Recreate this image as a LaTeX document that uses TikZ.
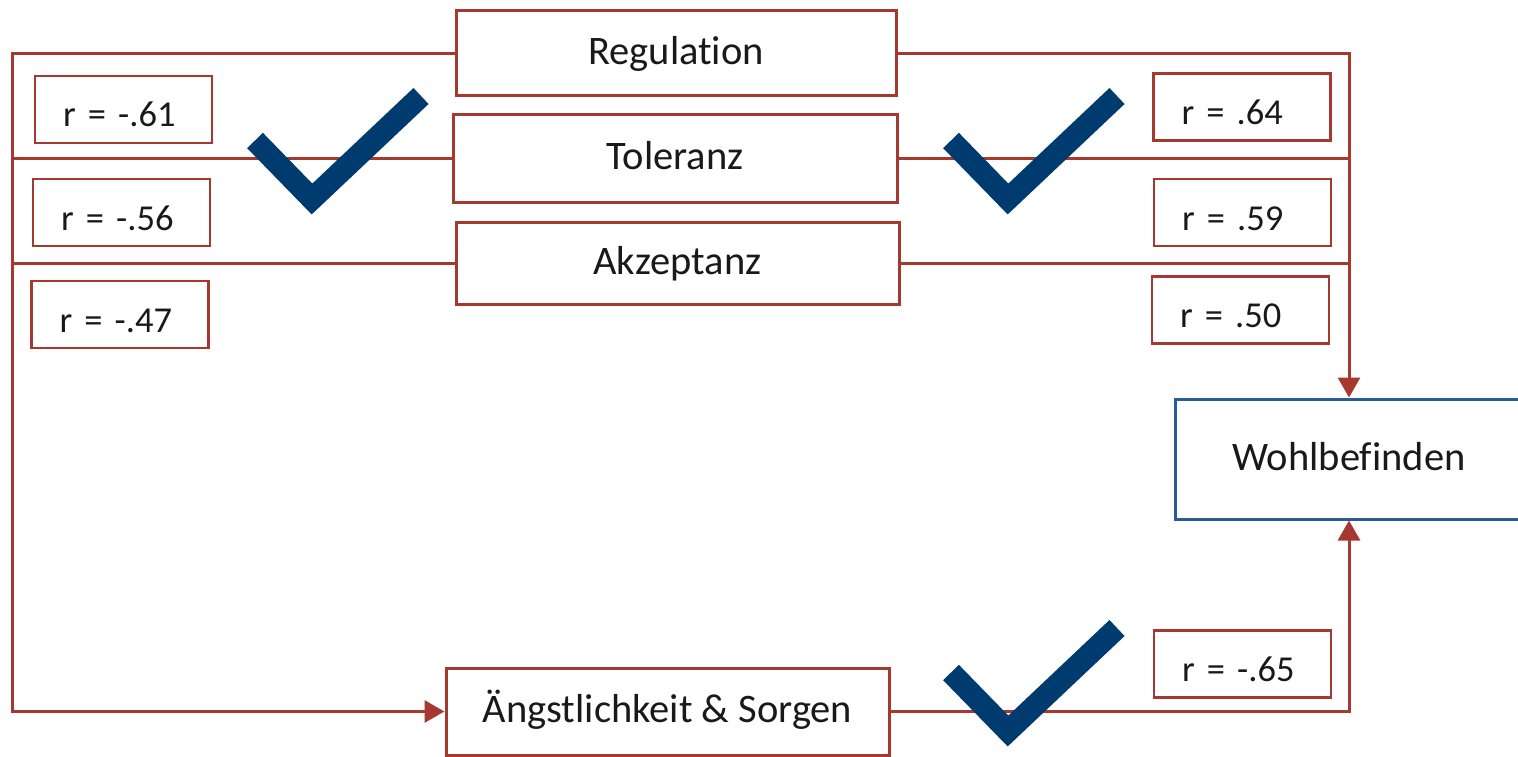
\documentclass[tikz,border=0pt]{standalone}
\usepackage{fontspec}
\setmainfont[Ligatures=NoCommon,RawFeature={-liga;-dlig}]{Carlito}
\usetikzlibrary{arrows.meta}
\definecolor{linkred}{RGB}{165,57,48}
\definecolor{tickblue}{RGB}{0,59,111}
\definecolor{outblue}{RGB}{40,92,150}
\definecolor{ink}{RGB}{25,25,25}

\begin{document}
\begin{tikzpicture}[x=1pt,y=-1pt,
  varbox/.style={draw=linkred, line width=3pt, inner sep=0pt, text=ink,
    font=\fontsize{40.5}{48}\selectfont, text height=26pt, text depth=4pt},
  outbox/.style={varbox, draw=outblue},
  coef/.style={draw=linkred, line width=2.5pt, inner xsep=28pt, inner ysep=0pt,
    text width=121pt, align=left, minimum height=67pt,
    text height=39pt, text depth=4pt, text=ink,
    font=\fontsize{36.5}{44}\selectfont},
  link/.style={draw=linkred, line width=3pt},
  arrowlink/.style={link, -{Triangle[length=20pt,width=22pt]}},
  tick/.style={draw=tickblue, line width=22pt, line join=miter, line cap=butt}]

\useasboundingbox (0,0) rectangle (1518,757);
\clip (0,0) rectangle (1518,757);

% variables
\node[varbox, minimum width=440pt, minimum height=85pt] (reg) at (676,53.5) {Regulation};
\node[varbox, minimum width=444pt, minimum height=87pt] (tol) at (675,158.5) {Toleranz};
\node[varbox, minimum width=443pt, minimum height=82pt] (akz) at (677.5,263) {Akzeptanz};
\node[varbox, minimum width=443pt, minimum height=87pt] (angst) at (667.5,711.5) {Ängstlichkeit \& Sorgen};
\node[outbox, minimum width=348pt, minimum height=120pt] (wohl) at (1349,459) {Wohlbefinden};

% correlation labels
\node[coef] (r61) at (123.5,109.5) {r = -.61};
\node[coef] (r56) at (121.5,212.5) {r = -.56};
\node[coef] (r47) at (120,314.5) {r = -.47};
\node[coef] (r64) at (1242,107) {r = .64};
\node[coef] (r59) at (1242.5,212.5) {r = .59};
\node[coef] (r50) at (1240.5,310) {r = .50};
\node[coef] (r65) at (1242.5,664) {r = -.65};

% bus lines
\coordinate (lft) at (12,0);
\coordinate (rgt) at (1349,0);

\draw[arrowlink] (reg.west) -| (lft |- angst.west) -- (angst.west);
\draw[link] (tol.west) -- (lft |- tol.west);
\draw[link] (akz.west) -- (lft |- akz.west);

\draw[arrowlink] (reg.east) -| (wohl.north);
\draw[link] (tol.east) -- (rgt |- tol.east);
\draw[link] (akz.east) -- (rgt |- akz.east);
\draw[arrowlink] (angst.east) -| (wohl.south);

% check marks
\draw[tick] (255,140.5) -- (312,199) -- (421,96);
\draw[tick] (951,140.5) -- (1008,199) -- (1117,96);
\draw[tick] (951,672.5) -- (1008,731) -- (1117,628);

\end{tikzpicture}
\end{document}
